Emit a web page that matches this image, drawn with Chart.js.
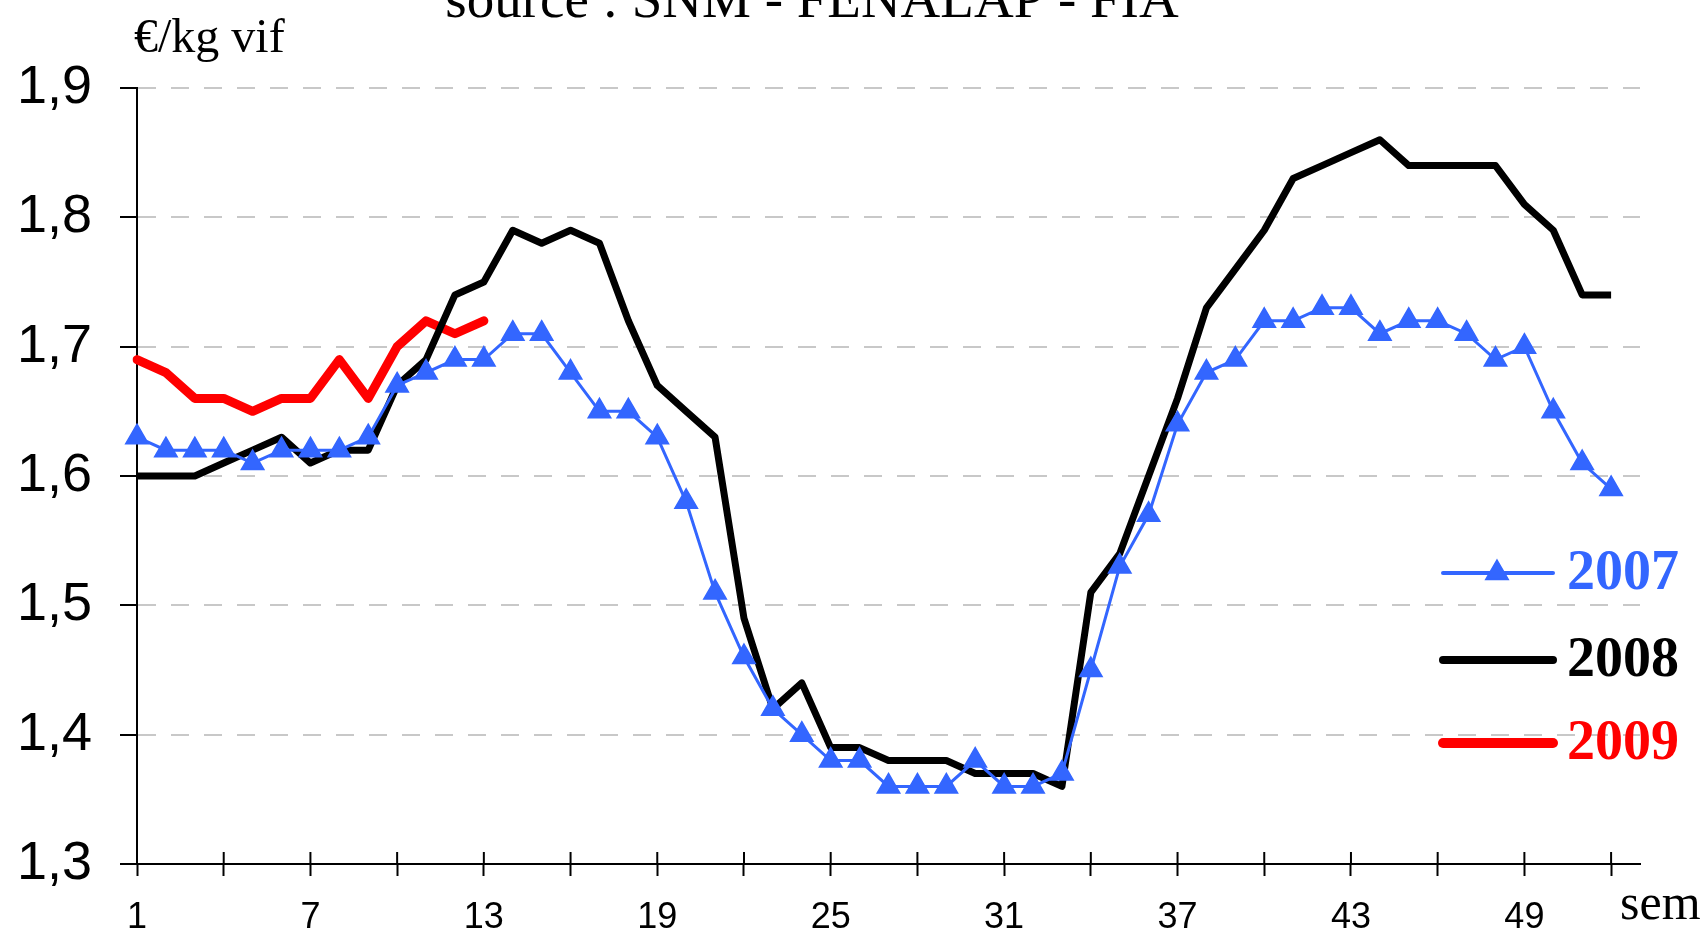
<!DOCTYPE html>
<html>
<head>
<meta charset="utf-8">
<title>Cotation porc - €/kg vif</title>
<script src="https://cdn.jsdelivr.net/npm/chart.js@4.4.1/dist/chart.umd.min.js"></script>
<style>
  html, body { margin: 0; padding: 0; background: #fff; }
  #wrap { width: 1706px; height: 934px; position: relative; }
</style>
</head>
<body>
<div id="wrap"><canvas id="priceChart"></canvas></div>
<script>
// weeks of the year (53 slots so the axis runs one week past the last point)
var weeks = ['1', '2', '3', '4', '5', '6', '7', '8', '9', '10', '11', '12', '13', '14', '15', '16', '17', '18',
    '19', '20', '21', '22', '23', '24', '25', '26', '27', '28', '29', '30', '31', '32', '33', '34', '35', '36',
    '37', '38', '39', '40', '41', '42', '43', '44', '45', '46', '47', '48', '49', '50', '51', '52', '53'];

var prices2007 = [1.63, 1.62, 1.62, 1.62, 1.61, 1.62, 1.62, 1.62, 1.63, 1.67,
    1.68, 1.69, 1.69, 1.71, 1.71, 1.68, 1.65, 1.65, 1.63, 1.58,
    1.51, 1.46, 1.42, 1.40, 1.38, 1.38, 1.36, 1.36, 1.36, 1.38,
    1.36, 1.36, 1.37, 1.45, 1.53, 1.57, 1.64, 1.68, 1.69, 1.72,
    1.72, 1.73, 1.73, 1.71, 1.72, 1.72, 1.71, 1.69, 1.70, 1.65,
    1.61, 1.59];

var prices2008 = [1.60, 1.60, 1.60, 1.61, 1.62, 1.63, 1.61, 1.62, 1.62, 1.67,
    1.69, 1.74, 1.75, 1.79, 1.78, 1.79, 1.78, 1.72, 1.67, 1.65,
    1.63, 1.49, 1.42, 1.44, 1.39, 1.39, 1.38, 1.38, 1.38, 1.37,
    1.37, 1.37, 1.36, 1.51, 1.54, 1.60, 1.66, 1.73, 1.76, 1.79,
    1.83, 1.84, 1.85, 1.86, 1.84, 1.84, 1.84, 1.84, 1.81, 1.79,
    1.74, 1.74];

var prices2009 = [1.69, 1.68, 1.66, 1.66, 1.65, 1.66, 1.66, 1.69, 1.66, 1.70, 1.72, 1.71, 1.72];

var yearLabels = ['2007', '2008', '2009'];
var yMin = 1.3;
var yMax = 1.9;
var yStep = 0.1;

var blue = '#3366ff';

// extra texts + custom legend drawn on the canvas
var extras = {
    id: 'extras',
    afterDraw: function(chart) {
        var ctx = chart.ctx;
        var area = chart.chartArea;
        var xs = chart.scales.x;
        ctx.save();

        // small tick stubs above the x axis
        ctx.strokeStyle = '#000';
        ctx.lineWidth = 2;
        for (var i = 0; i < weeks.length - 1; i += 3) {
            var px = xs.getPixelForValue(i);
            ctx.beginPath();
            ctx.moveTo(px, area.bottom - 12);
            ctx.lineTo(px, area.bottom);
            ctx.stroke();
        }

        ctx.fillStyle = '#000';
        ctx.textBaseline = 'alphabetic';
        ctx.textAlign = 'center';
        ctx.font = '55px "Liberation Serif"';
        ctx.fillText('source : SNM - FENALAP - FIA', 812, 17);

        ctx.textAlign = 'left';
        ctx.font = '48px "Liberation Serif"';
        ctx.fillText('€/kg vif', 134, 52);

        ctx.font = '50px "Liberation Serif"';
        ctx.fillText('sem', 1620, 919);

        // legend
        var rows = [573, 660, 743];
        chart.data.datasets.forEach(function(ds, k) {
            var y = rows[k];
            ctx.strokeStyle = ds.borderColor;
            ctx.lineWidth = ds.borderWidth + 1;
            ctx.lineCap = 'round';
            ctx.beginPath();
            ctx.moveTo(1443, y);
            ctx.lineTo(1553, y);
            ctx.stroke();
            if (ds.pointRadius > 0) {
                ctx.fillStyle = ds.pointBackgroundColor;
                ctx.strokeStyle = ds.pointBorderColor;
                ctx.lineWidth = ds.pointBorderWidth;
                Chart.helpers.drawPoint(ctx, {
                    pointStyle: ds.pointStyle,
                    radius: ds.pointRadius,
                    borderWidth: ds.pointBorderWidth,
                    rotation: 0
                }, 1497, y);
            }
            ctx.fillStyle = ds.borderColor;
            ctx.font = 'bold 56px "Liberation Serif"';
            ctx.textBaseline = 'middle';
            ctx.textAlign = 'left';
            ctx.fillText(ds.label, 1567, y + 2);
        });
        ctx.restore();
    }
};

var ctx = document.getElementById('priceChart').getContext('2d');
var priceChart = new Chart(ctx, {
    type: 'line',
    data: {
        labels: weeks,
        datasets: [{
            label: yearLabels[0],
            data: prices2007,
            borderColor: blue,
            backgroundColor: blue,
            borderWidth: 3,
            pointStyle: 'triangle',
            pointRadius: 13,
            pointBackgroundColor: blue,
            pointBorderColor: blue,
            pointBorderWidth: 1.5,
            tension: 0
        }, {
            label: yearLabels[1],
            data: prices2008,
            borderColor: '#000000',
            backgroundColor: '#000000',
            borderWidth: 7,
            borderJoinStyle: 'round',
            pointRadius: 0,
            tension: 0
        }, {
            label: yearLabels[2],
            data: prices2009,
            borderColor: '#ff0000',
            backgroundColor: '#ff0000',
            borderWidth: 9,
            borderJoinStyle: 'round',
            borderCapStyle: 'round',
            pointRadius: 0,
            tension: 0
        }]
    },
    options: {
        responsive: true,
        maintainAspectRatio: false,
        animation: false,
        layout: {
            padding: { top: 88, right: 66, left: 0, bottom: 0 }
        },
        scales: {
            x: {
                type: 'category',
                offset: false,
                afterFit: function(scale) { scale.height = 70; },
                border: { display: true, color: '#000', width: 2 },
                grid: {
                    drawOnChartArea: false,
                    tickLength: 12,
                    tickWidth: 2,
                    tickColor: function(c) { return c.index % 3 === 0 && c.index < 52 ? '#000' : 'rgba(0,0,0,0)'; }
                },
                ticks: {
                    autoSkip: false,
                    maxRotation: 0,
                    padding: 20,
                    color: '#000',
                    font: { family: '"Liberation Sans", Arial, sans-serif', size: 36 },
                    callback: function(value, index) {
                        return index % 6 === 0 ? weeks[index] : '';
                    }
                }
            },
            y: {
                min: yMin,
                max: yMax,
                afterFit: function(scale) { scale.width = 137; },
                border: { display: true, color: '#000', width: 2, dash: [18, 15] },
                grid: {
                    color: function(c) { return c.index === 0 ? 'rgba(0,0,0,0)' : '#c8c8c8'; },
                    lineWidth: 2,
                    tickLength: 17,
                    tickWidth: 2,
                    tickColor: '#000',
                    tickBorderDash: []
                },
                ticks: {
                    stepSize: yStep,
                    padding: 28,
                    color: '#000',
                    font: { family: '"Liberation Sans", Arial, sans-serif', size: 54 },
                    callback: function(value) {
                        return value.toFixed(1).replace('.', ',');
                    }
                }
            }
        },
        plugins: {
            legend: { display: false },
            title: { display: false },
            tooltip: { enabled: false }
        }
    },
    plugins: [extras]
});
</script>
</body>
</html>
